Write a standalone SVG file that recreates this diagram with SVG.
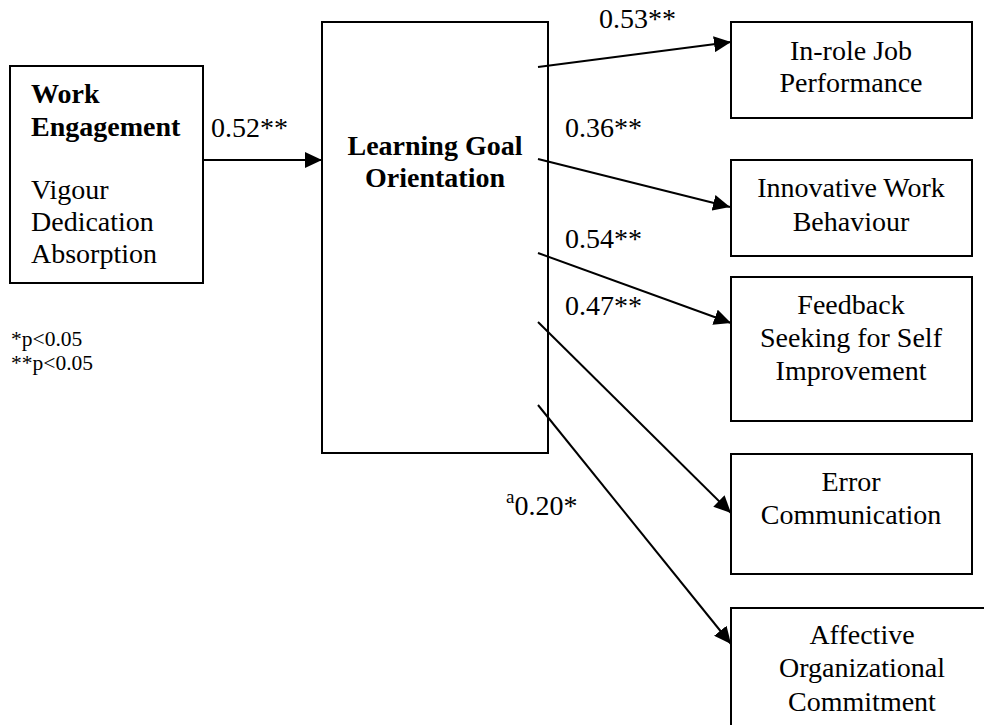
<svg xmlns="http://www.w3.org/2000/svg" width="984" height="725" viewBox="0 0 984 725">
  <style>
    .box { fill: #ffffff; stroke: #000000; stroke-width: 2; }
    .frame { fill: none; stroke: #000000; stroke-width: 2; }
    .t { font-family: "Liberation Serif", "Times New Roman", serif; font-size: 28px; fill: #000000; }
    .c { text-anchor: middle; }
    .b { font-weight: bold; }
    .small { font-size: 21.5px; }
    .edge { stroke: #000000; stroke-width: 2; fill: none; marker-end: url(#arrow); }
  </style>
  <defs>
    <marker id="arrow" markerUnits="userSpaceOnUse" markerWidth="18" markerHeight="16" refX="17" refY="8" orient="auto">
      <path d="M0,0 L17,8 L0,16 Z" fill="#000000"/>
    </marker>
  </defs>
  <rect width="984" height="725" fill="#ffffff"/>

  <!-- nodes -->
  <g id="work-engagement">
    <rect class="box" x="10" y="66" width="193" height="217"/>
    <text class="t b" x="31" y="103">Work</text>
    <text class="t b" x="31" y="136">Engagement</text>
    <text class="t" x="31" y="199">Vigour</text>
    <text class="t" x="31" y="231">Dedication</text>
    <text class="t" x="31" y="263">Absorption</text>
  </g>

  <g id="learning-goal-orientation">
    <rect class="frame" x="322" y="22" width="226" height="431"/>
    <text class="t b c" x="435" y="155">Learning Goal</text>
    <text class="t b c" x="435" y="187">Orientation</text>
  </g>

  <g id="in-role-job-performance">
    <rect class="box" x="731" y="22" width="241" height="96"/>
    <text class="t c" x="851" y="60">In-role Job</text>
    <text class="t c" x="851" y="92">Performance</text>
  </g>

  <g id="innovative-work-behaviour">
    <rect class="box" x="731" y="160" width="241" height="96"/>
    <text class="t c" x="851" y="197">Innovative Work</text>
    <text class="t c" x="851" y="231">Behaviour</text>
  </g>

  <g id="feedback-seeking">
    <rect class="box" x="731" y="277" width="241" height="144"/>
    <text class="t c" x="851" y="314">Feedback</text>
    <text class="t c" x="851" y="347">Seeking for Self</text>
    <text class="t c" x="851" y="380">Improvement</text>
  </g>

  <g id="error-communication">
    <rect class="box" x="731" y="454" width="241" height="120"/>
    <text class="t c" x="851" y="491">Error</text>
    <text class="t c" x="851" y="524">Communication</text>
  </g>

  <g id="affective-commitment">
    <rect class="box" x="731" y="608" width="262" height="130"/>
    <text class="t c" x="862" y="644">Affective</text>
    <text class="t c" x="862" y="677">Organizational</text>
    <text class="t c" x="862" y="711">Commitment</text>
  </g>

  <!-- connectors (drawn over the frame so they cross its right edge) -->
  <g id="connectors">
    <line class="edge" x1="203" y1="160" x2="322" y2="160"/>
    <line class="edge" x1="538" y1="67" x2="731" y2="42"/>
    <line class="edge" x1="538" y1="159" x2="730" y2="207"/>
    <line class="edge" x1="538" y1="253" x2="731" y2="323"/>
    <line class="edge" x1="538" y1="322" x2="731" y2="513"/>
    <line class="edge" x1="538" y1="405" x2="731" y2="644"/>
  </g>

  <!-- path coefficients -->
  <g id="labels">
    <text class="t" x="211" y="137">0.52**</text>
    <text class="t" x="599" y="28">0.53**</text>
    <text class="t" x="565" y="137">0.36**</text>
    <text class="t" x="565" y="248">0.54**</text>
    <text class="t" x="565" y="315">0.47**</text>
    <text class="t" x="506" y="515"><tspan font-size="19" dy="-12">a</tspan><tspan dy="12">0.20*</tspan></text>
  </g>

  <!-- significance legend -->
  <g id="legend">
    <text class="t small" x="11" y="346">*p&lt;0.05</text>
    <text class="t small" x="11" y="370">**p&lt;0.05</text>
  </g>
</svg>
